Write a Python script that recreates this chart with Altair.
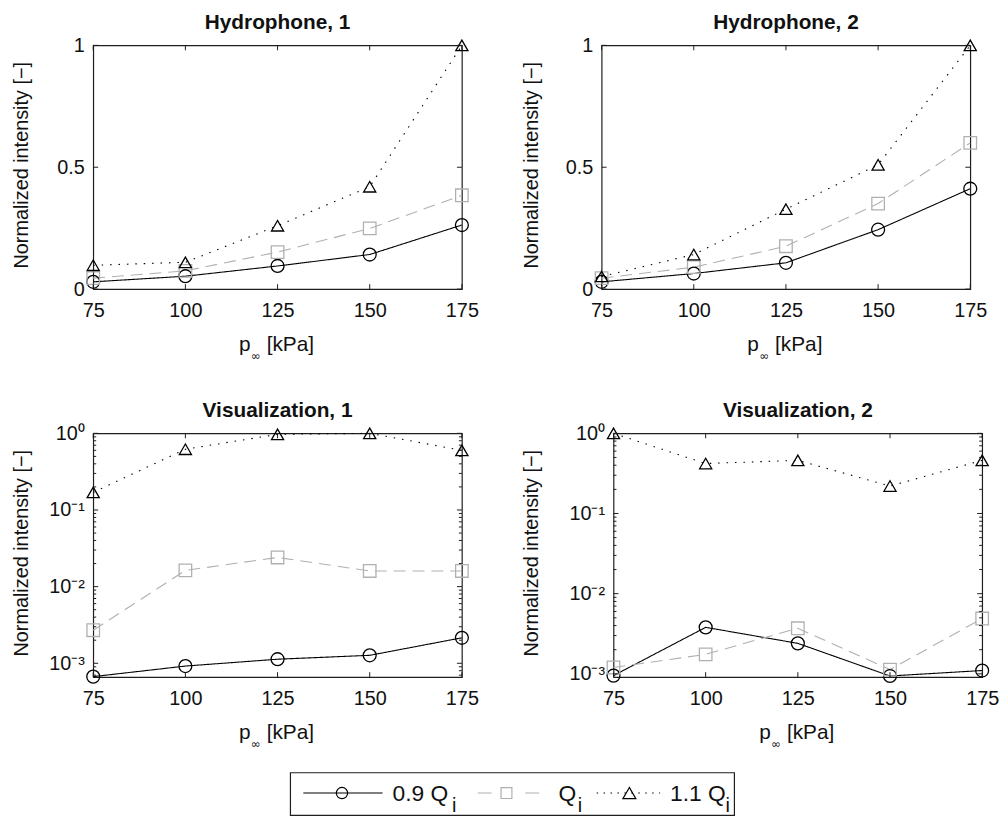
import altair as alt
import pandas as pd

# ---------------- data ----------------
P = [75, 100, 125, 150, 175]
SERIES = ["0.9 Qi", "Qi", "1.1 Qi"]

hyd1_09 = [0.030, 0.053, 0.095, 0.142, 0.263]
hyd1_10 = [0.045, 0.075, 0.152, 0.249, 0.385]
hyd1_11 = [0.098, 0.110, 0.260, 0.420, 1.000]

hyd2_09 = [0.030, 0.064, 0.108, 0.244, 0.412]
hyd2_10 = [0.045, 0.090, 0.176, 0.351, 0.600]
hyd2_11 = [0.052, 0.142, 0.328, 0.510, 1.000]

vis1_09 = [6.7e-4, 9.2e-4, 1.13e-3, 1.27e-3, 2.15e-3]
vis1_10 = [2.7e-3, 1.63e-2, 2.4e-2, 1.6e-2, 1.6e-2]
vis1_11 = [0.17, 0.62, 0.97, 1.00, 0.60]

vis2_09 = [9.5e-4, 3.8e-3, 2.4e-3, 9.4e-4, 1.1e-3]
vis2_10 = [1.2e-3, 1.75e-3, 3.7e-3, 1.13e-3, 4.9e-3]
vis2_11 = [1.00, 0.42, 0.46, 0.22, 0.46]

TITLES = ["Hydrophone, 1", "Hydrophone, 2", "Visualization, 1", "Visualization, 2"]
X_TITLE_PARTS = ["p", "\u221e", "[kPa]"]
Y_TITLE = "Normalized intensity [\u2212]"
X_TICKS = [75, 100, 125, 150, 175]
LIN_TICKS = [0, 0.5, 1]
LOG_TICKS = [0.001, 0.01, 0.1, 1]
LEG_MAIN = ["0.9 Q", "Q", "1.1 Q"]
LEG_SUB = "i"

# ---------------- styling ----------------
F = "Liberation Sans, Arial, Helvetica, sans-serif"
INK = "#111111"
FRAME = "#1e1e1e"
W, H = 372, 246
COLORS = ["#000000", "#b0b0b0", "#000000"]
DASHES = [[1, 0], [12, 7], [1.5, 7]]
SHAPES = ["circle", "square", "triangle-up"]
SIZES = [170, 150, 230]

color_scale = alt.Scale(domain=SERIES, range=COLORS)
dash_scale = alt.Scale(domain=SERIES, range=DASHES)
shape_scale = alt.Scale(domain=SERIES, range=SHAPES)
size_scale = alt.Scale(domain=SERIES, range=SIZES)

LOG_LABELS = ("datum.value > 0.5 ? '10\u2070' : datum.value > 0.05 ? '10\u207b\u00b9' : "
              "datum.value > 0.005 ? '10\u207b\u00b2' : '10\u207b\u00b3'")

# x-axis title pieces: (x offset from centre, y below plot, font size, baseline, font)
X_TITLE_STYLE = [(-39, 62, 21, "alphabetic", F),
                 (-27, 68, 12, "middle", "DejaVu Sans"),
                 (-11, 62, 21, "alphabetic", F)]


def make_panel(vals, title, log, domain, title_x):
    df = pd.DataFrame({
        "p": P * 3,
        "v": vals[0] + vals[1] + vals[2],
        "s": [s for s in SERIES for _ in P],
    })
    xs = alt.Scale(domain=[75, 175], nice=False, zero=False)
    xaxis = alt.Axis(values=X_TICKS, format="d", title=None, labelFlush=False,
                     labelOverlap=False)
    if log:
        ys = alt.Scale(type="log", domain=domain, nice=False)
        yaxis = alt.Axis(values=LOG_TICKS, labelExpr=LOG_LABELS, title=Y_TITLE,
                         titleX=title_x, titleY=H / 2 - 2.5, labelOverlap=False)
        major = [v for v in LOG_TICKS if domain[0] <= v <= domain[1]]
        minor = [k * 10.0 ** e for e in (-4, -3, -2, -1) for k in range(2, 10)]
        minor = [v for v in minor if domain[0] <= v <= domain[1]]
    else:
        ys = alt.Scale(domain=domain, nice=False, zero=False)
        yaxis = alt.Axis(values=LIN_TICKS, format="~g", title=Y_TITLE, titleX=title_x,
                         titleY=H / 2 - 2.5, labelOverlap=False)
        major = LIN_TICKS
        minor = []

    base = alt.Chart(df)
    enc_x = alt.X("p:Q", scale=xs, axis=xaxis)
    enc_y = alt.Y("v:Q", scale=ys, axis=yaxis)
    lines = base.mark_line(strokeWidth=1.1).encode(
        x=enc_x, y=enc_y,
        color=alt.Color("s:N", scale=color_scale, legend=None),
        strokeDash=alt.StrokeDash("s:N", scale=dash_scale, legend=None),
    )
    points = base.mark_point(filled=False, strokeWidth=1.3, opacity=1).encode(
        x=enc_x, y=enc_y,
        color=alt.Color("s:N", scale=color_scale, legend=None),
        shape=alt.Shape("s:N", scale=shape_scale, legend=None),
        size=alt.Size("s:O", scale=size_scale, legend=None),
    )

    layers = [lines, points]
    xt = alt.Chart(pd.DataFrame({"p": X_TICKS}))
    tx = alt.X("p:Q", scale=xs, axis=xaxis)
    layers.append(xt.mark_rule(color=FRAME, strokeWidth=1).encode(
        x=tx, y=alt.value(H), y2=alt.value(H - 5)))
    layers.append(xt.mark_rule(color=FRAME, strokeWidth=1).encode(
        x=tx, y=alt.value(0), y2=alt.value(5)))
    for vals_t, ln in ((major, 5), (minor, 3)):
        if not vals_t:
            continue
        yt = alt.Chart(pd.DataFrame({"v": vals_t}))
        ty = alt.Y("v:Q", scale=ys, axis=yaxis)
        layers.append(yt.mark_rule(color=FRAME, strokeWidth=1).encode(
            y=ty, x=alt.value(0), x2=alt.value(ln)))
        layers.append(yt.mark_rule(color=FRAME, strokeWidth=1).encode(
            y=ty, x=alt.value(W), x2=alt.value(W - ln)))
    # x-axis title "p∞ [kPa]" with a subscript infinity
    for txt, (dx, dy, fs, bl, fnt) in zip(X_TITLE_PARTS, X_TITLE_STYLE):
        layers.append(alt.Chart(pd.DataFrame({"t": [txt]})).mark_text(
            font=fnt, fontSize=fs, color=INK, align="left", baseline=bl).encode(
            text="t:N", x=alt.value(W / 2 + dx), y=alt.value(H + dy)))

    return alt.layer(*layers, title=alt.TitleParams(title, anchor="middle")).properties(
        width=W, height=H)


p1 = make_panel([hyd1_09, hyd1_10, hyd1_11], TITLES[0], False, [0, 1], -62.7)
p2 = make_panel([hyd2_09, hyd2_10, hyd2_11], TITLES[1], False, [0, 1], -61)
p3 = make_panel([vis1_09, vis1_10, vis1_11], TITLES[2], True, [6.6e-4, 1], -62.7)
p4 = make_panel([vis2_09, vis2_10, vis2_11], TITLES[3], True, [9.1e-4, 1], -72.7)

row1 = alt.hconcat(p1, p2, spacing=41)
row2 = alt.hconcat(p3, p4, spacing=41)

# ---------------- legend (drawn as its own small chart) ----------------
LW, LH = 880, 44
BOX = (199, 647)
LINE_Y, TEXT_Y, SUB_Y = 21, 29, 40.5
# (line start, line end, marker, text, subscript) relative to box left
LEG_POS = [(13, 93, 52, 103, 163), (189, 251, 218, 270.5, 290), (309, 373, 342, 383, 439)]
LEG_DASH = [[1, 0], [14, 34], [1.5, 5.5]]
LEG_SIZE = [130, 120, 170]

lx = alt.Scale(domain=[0, LW], nice=False, zero=False)
ly = alt.Scale(domain=[0, LH], nice=False, zero=False, reverse=True)
leg_layers = [
    alt.Chart(pd.DataFrame({"x": [BOX[0]], "x2": [BOX[1]], "y": [0.5], "y2": [LH - 0.5]}))
    .mark_rect(fill="white", stroke=FRAME, strokeWidth=1.2)
    .encode(x=alt.X("x:Q", scale=lx, axis=None), x2="x2:Q",
            y=alt.Y("y:Q", scale=ly, axis=None), y2="y2:Q")
]
for i, s in enumerate(SERIES):
    a, b, m, t, sb = [BOX[0] + v for v in LEG_POS[i]]
    leg_layers.append(
        alt.Chart(pd.DataFrame({"x": [a], "x2": [b], "y": [LINE_Y]}))
        .mark_rule(color=COLORS[i], strokeWidth=1.1, strokeDash=LEG_DASH[i])
        .encode(x=alt.X("x:Q", scale=lx, axis=None), x2="x2:Q",
                y=alt.Y("y:Q", scale=ly, axis=None)))
    leg_layers.append(
        alt.Chart(pd.DataFrame({"x": [m], "y": [LINE_Y]}))
        .mark_point(shape=SHAPES[i], filled=False, color=COLORS[i], strokeWidth=1.2,
                    size=LEG_SIZE[i], opacity=1)
        .encode(x=alt.X("x:Q", scale=lx, axis=None), y=alt.Y("y:Q", scale=ly, axis=None)))
    leg_layers.append(
        alt.Chart(pd.DataFrame({"x": [t], "y": [TEXT_Y], "label": [LEG_MAIN[i]]}))
        .mark_text(align="left", baseline="alphabetic", font=F, fontSize=23, color=INK)
        .encode(x=alt.X("x:Q", scale=lx, axis=None), y=alt.Y("y:Q", scale=ly, axis=None),
                text="label:N"))
    leg_layers.append(
        alt.Chart(pd.DataFrame({"x": [sb], "y": [SUB_Y], "label": [LEG_SUB]}))
        .mark_text(align="left", baseline="alphabetic", font=F, fontSize=20, color=INK)
        .encode(x=alt.X("x:Q", scale=lx, axis=None), y=alt.Y("y:Q", scale=ly, axis=None),
                text="label:N"))

legend = alt.layer(*leg_layers).properties(
    width=LW, height=LH, view=alt.ViewBackground(stroke="transparent"))

chart = alt.vconcat(row1, row2, spacing=36.5)
chart = alt.vconcat(chart, legend, spacing=19.5).properties(
    padding={"left": 2, "top": 0, "right": 0, "bottom": 0})

chart = (chart
         .configure_view(stroke=FRAME, strokeWidth=1.2)
         .configure_axis(labelFont=F, labelFontSize=20, labelColor=INK, titleFont=F,
                         titleFontSize=20, titleFontWeight="normal", titleColor=INK,
                         ticks=False, tickSize=0, domain=False, grid=False)
         .configure_axisX(labelPadding=12)
         .configure_axisY(labelPadding=9)
         .configure_title(font=F, fontSize=21, fontWeight="bold", color=INK, offset=2))

chart.save("out.html", embed_options={"renderer": "svg", "actions": False})
